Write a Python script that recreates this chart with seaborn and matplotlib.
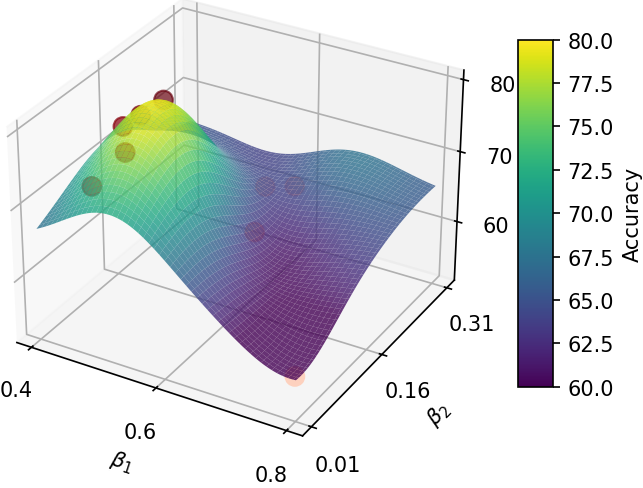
import matplotlib
matplotlib.use("Agg")
import matplotlib.pyplot as plt
import numpy as np
import seaborn as sns

# measured runs: beta1, beta2 and accuracy
beta1 = [0.50, 0.485, 0.47, 0.50, 0.467, 0.62, 0.58, 0.62, 0.793]
beta2 = [0.136, 0.11, 0.094, 0.062, 0.0375, 0.25, 0.24, 0.165, 0.0175]
accuracy = [80.0, 79.0, 78.0, 77.0, 73.0, 64.5, 64.0, 63.0, 57.0]

x_ticks = [0.4, 0.6, 0.8]
y_ticks = [0.01, 0.16, 0.31]
z_ticks = [60, 70, 80]

viridis = sns.color_palette("viridis", as_cmap=True)
reds = sns.color_palette("Reds", as_cmap=True)

# smooth surface through the runs (gaussian rbf around a base level)
px = (np.array(beta1) - 0.4) / 0.4
py = (np.array(beta2) - 0.01) / 0.3
pz = np.array(accuracy)
base = 65.0
sx, sy = 0.21, 0.25


def kernel(ax_, ay_, bx_, by_):
    return np.exp(-(ax_ - bx_) ** 2 / (2 * sx ** 2) - (ay_ - by_) ** 2 / (2 * sy ** 2))


phi = kernel(px[:, None], py[:, None], px[None, :], py[None, :])
w = np.linalg.solve(phi + 0.01 * np.eye(len(px)), pz - base)

gx, gy = np.meshgrid(np.linspace(0.4, 0.8, 100), np.linspace(0.01, 0.31, 100))
gxn = (gx - 0.4) / 0.4
gyn = (gy - 0.01) / 0.3
gz = base + kernel(gxn[..., None], gyn[..., None], px, py) @ w

fig = plt.figure(figsize=(643 / 150, 489 / 150), dpi=150)
ax = fig.add_axes([-0.068, 0.041, 0.86, 1.04], projection='3d')
ax.computed_zorder = False

ax.scatter(beta1, beta2, accuracy, c=accuracy, cmap=reds, vmin=52, vmax=80,
           s=80, zorder=1)
surf = ax.plot_surface(gx, gy, gz, cmap=viridis, vmin=60, vmax=80,
                       alpha=0.8, linewidth=0, antialiased=True, zorder=2)

ax.set_xlim(0.376, 0.824)
ax.set_ylim(-0.008, 0.328)
ax.set_zlim(51.4, 81.3)
ax.set_xticks(x_ticks)
ax.set_yticks(y_ticks)
ax.set_zticks(z_ticks)
ax.set_xticklabels(["0.4", "0.6", "0.8"])
ax.set_yticklabels(["0.01", "0.16", "0.31"])
ax.set_xlabel(r'$\beta_1$')
ax.set_ylabel(r'$\beta_2$')

cax = fig.add_axes([0.806, 0.207, 0.054, 0.71])
sm = matplotlib.cm.ScalarMappable(cmap=viridis, norm=plt.Normalize(60, 80))
cb = fig.colorbar(sm, cax=cax)
cb.set_label('Accuracy')

fig.savefig("out.png", dpi=150)
